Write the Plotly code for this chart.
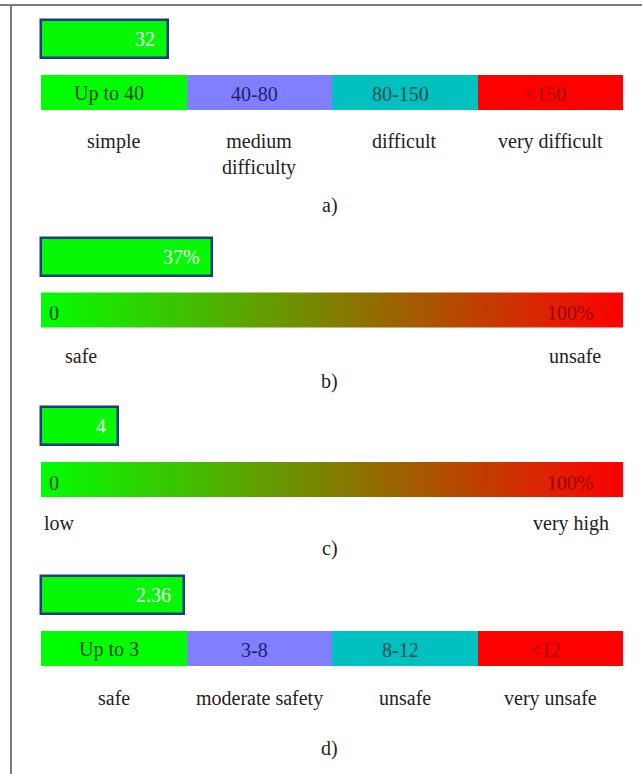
import plotly.graph_objects as go

# ---------------- data ----------------
panel_letters = ["a)", "b)", "c)", "d)"]
value_labels = ["32", "37%", "4", "2.36"]
# extent of the filled value box, in percent of the scale width
fill_extent = [21.8, 29.4, 13.3, 24.5]

a_ranges = ["Up to 40", "40-80", "80-150", "<150"]
a_classes = ["simple", "medium<br>difficulty", "difficult", "very difficult"]
d_ranges = ["Up to 3", "3-8", "8-12", "<12"]
d_classes = ["safe", "moderate safety", "unsafe", "very unsafe"]

b_ends = ["0", "100%"]
b_classes = ["safe", "unsafe"]
c_ends = ["0", "100%"]
c_classes = ["low", "very high"]

seg_colors = ["#00ff00", "#7f7fff", "#00c0c0", "#ff0000"]
seg_text_colors = ["#0a3f0a", "#22226a", "#0c4f4f", "#a00000"]

# ---------------- layout helpers (pixel-like y axis) ----------------
W, H = 642, 774
BAR_L, BAR_R = 41, 623
scale = (BAR_R - BAR_L) / 100.0
x_range = [-BAR_L / scale, (W - BAR_L) / scale]
FONT = "Liberation Serif"

# y centres / heights per panel
box_y = [39, 257, 426, 595]
box_h = 38
bar_y = [92.5, 310, 479.5, 648.5]
bar_h = 35
class_y = [140, 355, 522, 697]
letter_y = [205, 381, 548, 748]

fig = go.Figure()
ann = []

def value_box(i):
    fig.add_trace(go.Bar(
        orientation="h", base=[0], x=[fill_extent[i]], y=[box_y[i]], width=[box_h],
        marker=dict(color="#05f805", line=dict(color="#1c3a86", width=2.5)),
        hoverinfo="skip", showlegend=False))
    ann.append(dict(x=fill_extent[i] - 1.8, y=box_y[i], text=value_labels[i],
                    xanchor="right", yanchor="middle", showarrow=False,
                    font=dict(family=FONT, size=20, color="#f4fff4")))

def class_label(x, y, text):
    ann.append(dict(x=x, y=y - 12, text=text, xanchor="center", yanchor="top",
                    showarrow=False,
                    font=dict(family=FONT, size=20, color="#222222")))

def segmented(i, ranges, classes):
    n = len(ranges)
    w = 100.0 / n
    for k in range(n):
        fig.add_trace(go.Bar(
            orientation="h", base=[k * w], x=[w], y=[bar_y[i]], width=[bar_h],
            marker=dict(color=seg_colors[k], line=dict(width=0)),
            hoverinfo="skip", showlegend=False))
        ann.append(dict(x=k * w + w / 2 - 0.8, y=bar_y[i] + 1, text=ranges[k],
                        xanchor="center", yanchor="middle", showarrow=False,
                        font=dict(family=FONT, size=20, color=seg_text_colors[k])))
        class_label(k * w + w / 2, class_y[i], classes[k])

def gradient(i, ends, classes, class_x):
    N = 200
    xs = [100.0 * (j + 0.5) / N for j in range(N)]
    fig.add_trace(go.Heatmap(
        z=[xs], x0=100.0 / N / 2, dx=100.0 / N, y0=bar_y[i], dy=bar_h,
        colorscale=[[0, "#00ff00"], [1, "#ff0000"]], zmin=0, zmax=100,
        showscale=False, hoverinfo="skip"))
    ann.append(dict(x=2.3, y=bar_y[i] + 3, text=ends[0], xanchor="center",
                    yanchor="middle", showarrow=False,
                    font=dict(family=FONT, size=20, color="#0b4a0b")))
    ann.append(dict(x=91.0, y=bar_y[i] + 3, text=ends[1], xanchor="center",
                    yanchor="middle", showarrow=False,
                    font=dict(family=FONT, size=20, color="#9a0000")))
    for k in range(2):
        class_label(class_x[k], class_y[i], classes[k])

# panel a
value_box(0)
segmented(0, a_ranges, a_classes)
# panel b
value_box(1)
gradient(1, b_ends, b_classes, [6.8, 91.8])
# panel c
value_box(2)
gradient(2, c_ends, c_classes, [3.2, 91.0])
# panel d
value_box(3)
segmented(3, d_ranges, d_classes)

for i, t in enumerate(panel_letters):
    ann.append(dict(x=49.6, y=letter_y[i], text=t, xanchor="center",
                    yanchor="middle", showarrow=False,
                    font=dict(family=FONT, size=20, color="#222222")))

shapes = [
    dict(type="line", xref="paper", yref="paper", x0=0, x1=1, y0=1 - 5 / H, y1=1 - 5 / H,
         line=dict(color="#7a7a7a", width=2)),
    dict(type="line", xref="paper", yref="paper", x0=11 / W, x1=11 / W, y0=0, y1=1 - 5 / H,
         line=dict(color="#7a7a7a", width=2)),
]

fig.update_layout(
    width=W, height=H, margin=dict(l=0, r=0, t=0, b=0),
    paper_bgcolor="white", plot_bgcolor="white",
    barmode="overlay", bargap=0,
    xaxis=dict(range=x_range, visible=False, fixedrange=True),
    yaxis=dict(range=[H, 0], visible=False, fixedrange=True),
    annotations=ann, shapes=shapes, showlegend=False,
)

fig.write_html("out.html", config={"displayModeBar": False},
               post_script="document.body.style.margin='0px';document.body.style.overflow='hidden';")
